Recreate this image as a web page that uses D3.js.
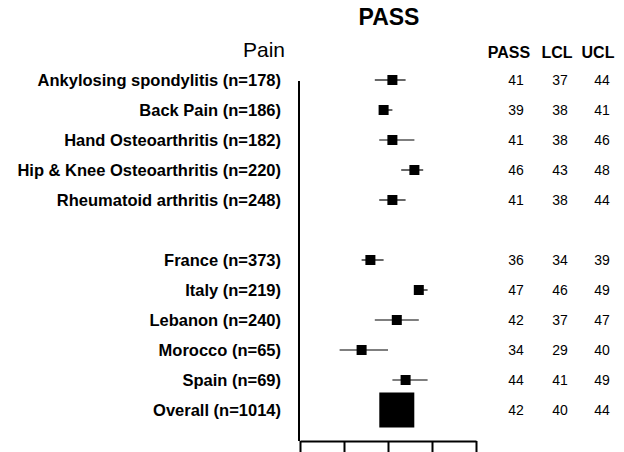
<!DOCTYPE html>
<html>
<head>
<meta charset="utf-8">
<script src="https://cdn.jsdelivr.net/npm/d3@7"></script>
<style>
  body { margin: 0; background: #fff; }
  svg { display: block; font-family: "Liberation Sans", Arial, sans-serif; }
</style>
</head>
<body>
<div id="chart"></div>
<script>
// rows of the forest plot, null = blank separator row
const labels = [
  "Ankylosing spondylitis (n=178)",
  "Back Pain (n=186)",
  "Hand Osteoarthritis (n=182)",
  "Hip & Knee Osteoarthritis (n=220)",
  "Rheumatoid arthritis (n=248)",
  null,
  "France (n=373)",
  "Italy (n=219)",
  "Lebanon (n=240)",
  "Morocco (n=65)",
  "Spain (n=69)",
  "Overall (n=1014)"
];
const pass = [41, 39, 41, 46, 41, null, 36, 47, 42, 34, 44, 42];
const lcl  = [37, 38, 38, 43, 38, null, 34, 46, 37, 29, 41, 40];
const ucl  = [44, 41, 46, 48, 44, null, 39, 49, 47, 40, 49, 44];
const columns = ["PASS", "LCL", "UCL"];
const xTicks = [20, 30, 40, 50, 60];

const width = 624, height = 452;

const svg = d3.select('#chart').append('svg')
  .attr('width', width)
  .attr('height', height);

const x = d3.scaleLinear().domain([20, 60]).range([300, 476]);
const y = d3.scaleBand().domain(d3.range(labels.length)).range([65, 425]);
const yc = i => y(i) + y.bandwidth() / 2;

const rows = labels.map((l, i) => ({label: l, pass: pass[i], lcl: lcl[i], ucl: ucl[i], i: i}))
  .filter(d => d.label != null);

// titles
svg.append('text')
  .attr('x', 389).attr('y', 25)
  .attr('text-anchor', 'middle')
  .style('font-weight', 'bold')
  .style('font-size', '23px')
  .text('PASS');

svg.append('text')
  .attr('x', 285).attr('y', 57)
  .attr('text-anchor', 'end')
  .style('font-size', '21px')
  .text('Pain');

const colX = [509, 557, 598];
const numX = [516, 560, 602];
svg.selectAll('.colhead')
  .data(columns)
  .enter().append('text')
  .attr('class', 'colhead')
  .attr('x', (d, i) => colX[i]).attr('y', 58)
  .attr('text-anchor', 'middle')
  .style('font-weight', 'bold')
  .style('font-size', '16px')
  .text(d => d);

// axes (tick labels fall below the visible area in the original, so none are drawn)
svg.append('line')
  .attr('x1', 299).attr('x2', 299)
  .attr('y1', 81).attr('y2', 441)
  .attr('stroke', '#000').attr('stroke-width', 2);

const xAxis = svg.append('g')
  .attr('transform', 'translate(0,441)')
  .call(d3.axisBottom(x).tickValues(xTicks).tickSize(14).tickSizeOuter(0).tickFormat(''));
xAxis.select('.domain').attr('stroke-width', 2);
xAxis.selectAll('.tick line').attr('stroke-width', 2);
xAxis.selectAll('.tick text').remove();

// row labels
svg.selectAll('.label')
  .data(rows)
  .enter().append('text')
  .attr('class', 'label')
  .attr('x', 281).attr('y', d => yc(d.i))
  .attr('dy', '0.35em')
  .attr('text-anchor', 'end')
  .style('font-weight', 'bold')
  .style('font-size', '16.5px')
  .text(d => d.label);

// CI lines
svg.selectAll('.ci')
  .data(rows)
  .enter().append('line')
  .attr('class', 'ci')
  .attr('x1', d => x(d.lcl)).attr('x2', d => x(d.ucl))
  .attr('y1', d => yc(d.i)).attr('y2', d => yc(d.i))
  .attr('stroke', '#000').attr('stroke-width', 1.2);

// point estimates
svg.selectAll('.pt')
  .data(rows)
  .enter().append('rect')
  .attr('class', 'pt')
  .each(function (d) {
    let s = d.label.startsWith('Overall') ? 35 : 10;
    d3.select(this)
      .attr('x', x(d.pass) - s / 2)
      .attr('y', yc(d.i) - s / 2)
      .attr('width', s).attr('height', s);
  })
  .attr('fill', '#000');

// value table
columns.forEach(function (c, j) {
  const vals = [pass, lcl, ucl][j];
  svg.selectAll('.num' + j)
    .data(rows)
    .enter().append('text')
    .attr('class', 'num' + j)
    .attr('x', numX[j]).attr('y', d => yc(d.i))
    .attr('dy', '0.35em')
    .attr('text-anchor', 'middle')
    .style('font-size', '14px')
    .text(d => vals[d.i]);
});
</script>
</body>
</html>
